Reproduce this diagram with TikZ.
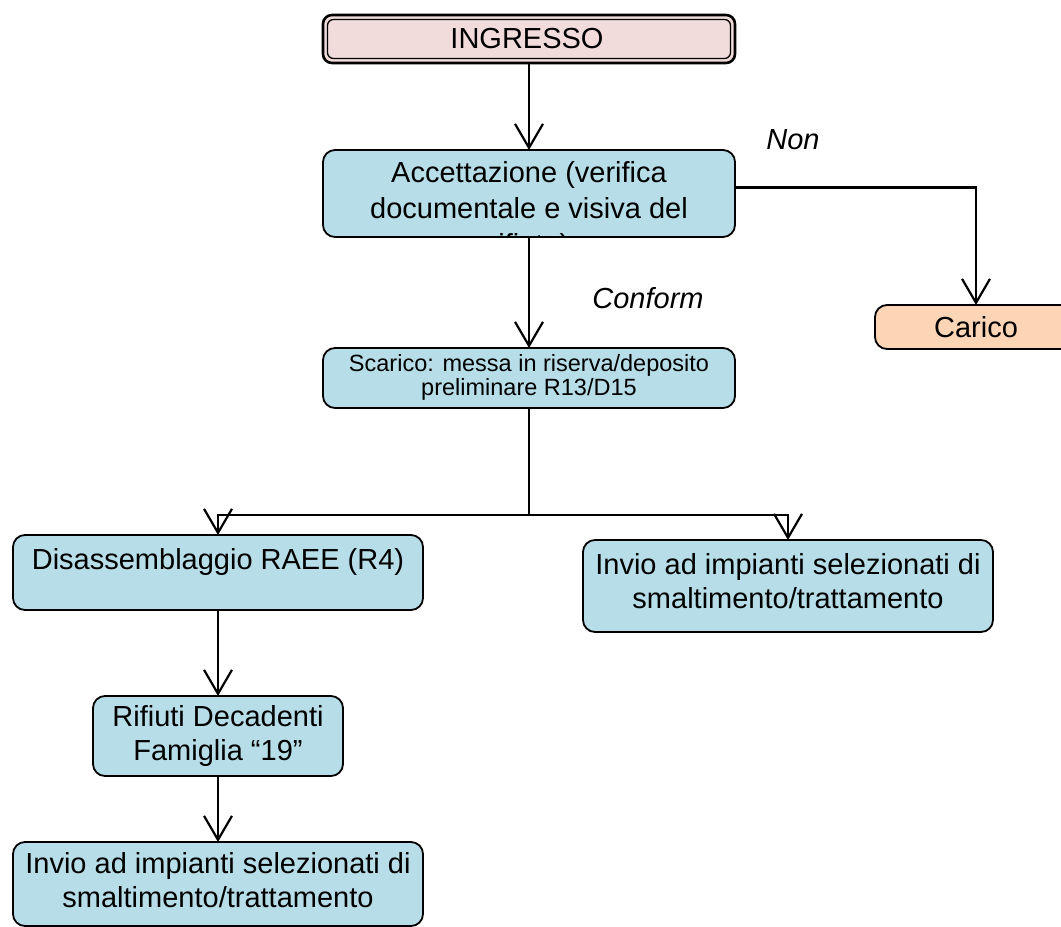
\documentclass[tikz,border=0pt]{standalone}
\usepackage{fontspec}
\setmainfont{Liberation Sans}
\usetikzlibrary{arrows.meta}
\definecolor{boxblue}{HTML}{B7DEE8}
\definecolor{boxorange}{HTML}{FBD5B5}
\definecolor{boxpink}{HTML}{F2DCDB}
\tikzset{
  bx/.style={draw, line width=1.8pt, rounded corners=12pt, fill=boxblue, inner sep=0pt, outer sep=0pt},
  txt/.style={font=\fontsize{29}{34}\selectfont, align=center, inner sep=0pt},
  smalltxt/.style={font=\fontsize{23.5}{24}\selectfont, align=center, inner sep=0pt},
  lbl/.style={font=\fontsize{29}{34}\selectfont\itshape, inner sep=0pt},
  conn/.style={line width=2.2pt},
  arr/.style={line width=2.2pt, -{Straight Barb[length=24pt,width=28pt,line width=2.2pt]}}
}
\begin{document}
\begin{tikzpicture}[x=1pt,y=-1pt]
\useasboundingbox (0,0) rectangle (1061,927);
\clip (0,0) rectangle (1061,927);

% INGRESSO (double border)
\node[draw, line width=2.6pt, rounded corners=9pt, fill=boxpink, minimum width=412pt, minimum height=48pt, inner sep=0pt, outer sep=0pt] (ing) at (529,39) {};
\draw[line width=1.3pt, rounded corners=6pt] ([shift={(4.5pt,-4.5pt)}]ing.north west) rectangle ([shift={(-4.5pt,4.5pt)}]ing.south east);
\node[txt] (ingt) at (527,39) {INGRESSO};

% Accettazione
\node[bx, minimum width=412pt, minimum height=87pt] (acc) at (529,193.5) {};
\begin{scope}
  \clip[rounded corners=12pt] (324,151) rectangle (734,236);
  \node[txt, font=\fontsize{29}{36}\selectfont] (acct) at (529,211) {Accettazione (verifica\\documentale e visiva del\\rifiuto)};
\end{scope}

% Carico
\node[bx, fill=boxorange, minimum width=202pt, minimum height=44pt] (car) at (976,327) {};
\node[txt] (cart) at (976,327) {Carico};

% Scarico
\node[bx, minimum width=412pt, minimum height=60pt] (sca) at (529,378) {};
\node[smalltxt] (scat) at (529,377) {Scarico: messa in riserva/deposito\\preliminare R13/D15};

% Disassemblaggio
\node[bx, minimum width=410pt, minimum height=75pt] (dis) at (218,572.5) {};
\node[txt] (dist) at (218,562) {Disassemblaggio RAEE (R4)};

% Invio (right)
\node[bx, minimum width=410pt, minimum height=92pt] (inv1) at (788,586) {};
\node[txt] (inv1t) at (788,581) {Invio ad impianti selezionati di\\smaltimento/trattamento};

% Rifiuti
\node[bx, minimum width=250pt, minimum height=80pt] (rif) at (218,736) {};
\node[txt] (rift) at (218,736) {Rifiuti Decadenti\\Famiglia “19”};

% Invio (bottom)
\node[bx, minimum width=410pt, minimum height=84pt] (inv2) at (218,884) {};
\node[txt] (inv2t) at (218,880) {Invio ad impianti selezionati di\\smaltimento/trattamento};

% labels
\node[lbl] (non) at (793,140) {Non};
\node[lbl] (conf) at (648,298) {Conform};

% connectors
\draw[arr] (ing) -- (acc);
\draw[arr] (acc) -- (sca);
\draw[arr] ([yshift=6pt]acc.east) -| (car.north);
\draw[conn] (sca.south) -- (sca.south |- 0,515) coordinate (split);
\draw[arr] (split) -| (dis.north);
\draw[arr] (split) -| (inv1.north);
\draw[arr] (dis) -- (rif);
\draw[arr] (rif) -- (inv2);
\end{tikzpicture}
\end{document}
